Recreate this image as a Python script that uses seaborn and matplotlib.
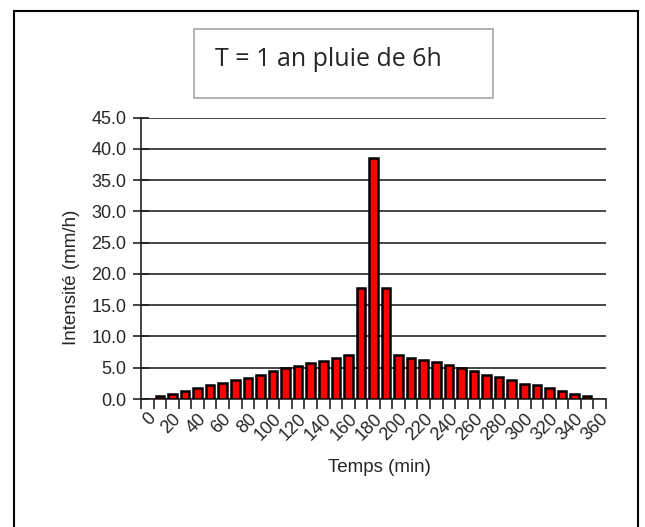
import numpy as np
import pandas as pd
import matplotlib
matplotlib.use("Agg")
import matplotlib.pyplot as plt
from matplotlib.patches import Rectangle
import seaborn as sns

# -------------------------------
# Data (rain hyetograph, T = 1 year, 6h storm)
# -------------------------------
minutes = list(range(10, 360, 10))
intensity = [0.4, 0.8, 1.3, 1.7, 2.2, 2.5, 3.0, 3.4, 3.8, 4.5, 4.9, 5.3, 5.8, 6.1, 6.5, 7.0,
             17.8, 38.6, 17.8,
             7.1, 6.6, 6.2, 5.9, 5.4, 4.9, 4.5, 3.9, 3.5, 3.0, 2.4, 2.2, 1.7, 1.3, 0.8, 0.4]
categories = list(range(0, 361, 10))
tick_labels = [str(m) for m in range(0, 361, 20)]
y_ticks = np.arange(0, 45.1, 5)

df = pd.DataFrame({'Temps': minutes, 'Intensite': intensity})

# -------------------------------
# Style
# -------------------------------
sns.set_style("white")
plt.rcParams['font.family'] = ['Liberation Sans', 'DejaVu Sans']

fig = plt.figure(figsize=(6.45, 5.27), dpi=100)
ax = fig.add_axes([141 / 645, 1 - 399 / 527, 465 / 645, 281.5 / 527])

# -------------------------------
# Bars
# -------------------------------
sns.barplot(data=df, x='Temps', y='Intensite', order=categories,
            color='#ff0000', saturation=1, edgecolor='black',
            linewidth=1.8, width=0.68, ax=ax, zorder=3)

ax.set_xlim(-0.5, len(categories) - 0.5)
ax.set_ylim(0, 45)
ax.set_yticks(y_ticks)
ax.set_yticklabels([f"{v:.1f}" for v in y_ticks], fontsize=13)
ax.yaxis.grid(True, color='#262626', linewidth=1.2, zorder=0)
ax.set_axisbelow(True)

ax.set_xticks(range(0, len(categories), 2))
ax.set_xticklabels(tick_labels, rotation=45, ha='right', rotation_mode='anchor', fontsize=13)
ax.set_xticks(np.arange(-0.5, len(categories), 1), minor=True)
ax.tick_params(axis='x', which='major', length=0, pad=8)
ax.tick_params(axis='x', which='minor', length=7, width=1.2, color='#222222', bottom=True)
ax.tick_params(axis='y', which='major', direction='inout', length=11, width=1.2,
               color='#222222', left=True, pad=5)

for side in ['top', 'right']:
    ax.spines[side].set_visible(False)
for side in ['left', 'bottom']:
    ax.spines[side].set_color('#222222')
    ax.spines[side].set_linewidth(1.2)

ax.set_xlabel('')
ax.set_ylabel('')
fig.text(379 / 645, 1 - 468 / 527, 'Temps (min)', ha='center', va='center', fontsize=13.5)
fig.text(72 / 645, 1 - 277 / 527, 'Intensité (mm/h)', ha='center', va='center',
         rotation=90, fontsize=13.5)

# -------------------------------
# Frames and title box
# -------------------------------
fig.patches.append(Rectangle((14 / 645, -0.1), 624 / 645, 1.1 - 11 / 527,
                             transform=fig.transFigure, fill=False,
                             edgecolor='black', linewidth=1.5))
fig.patches.append(Rectangle((194 / 645, 1 - 98 / 527), 299 / 645, 69 / 527,
                             transform=fig.transFigure, fill=False,
                             edgecolor='#a6a6a6', linewidth=1.2))
fig.text(215 / 645, 1 - 60 / 527, 'T = 1 an pluie de 6h', ha='left', va='center',
         fontsize=18, family=['Open Sans', 'DejaVu Sans'])

fig.savefig('out.png', dpi=100)
